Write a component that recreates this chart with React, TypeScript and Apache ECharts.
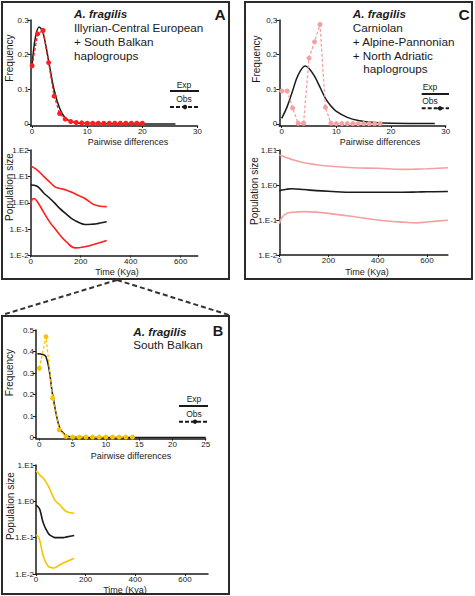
import React, { useEffect, useRef } from "react";
import * as echarts from "echarts";

const FONT = "'Liberation Sans', Arial, Helvetica, sans-serif";
const INK = "#1a1a1a";
const RED = "#ff1f1f";
const PINK = "#f4a0a0";
const YELLOW = "#f7c400";

// ---------- Panel A: mismatch distribution ----------
const aObsX = [0, 1, 2, 3, 4, 5, 6, 7, 8, 9, 10, 11, 12, 13, 14, 15, 16, 17, 18, 19, 20];
const aObsFreq = [0.168, 0.26, 0.27, 0.177, 0.08, 0.03, 0.014, 0.007, 0.004, 0.003, 0.002, 0.002, 0.002, 0.002, 0.002, 0.002, 0.002, 0.002, 0.002, 0.002, 0.002];
const aExpX = [0, 0.6, 1.3, 2, 3, 4, 5, 6, 7, 8, 10, 14, 20, 26];
const aExpFreq = [0.168, 0.25, 0.28, 0.262, 0.182, 0.098, 0.045, 0.017, 0.007, 0.003, 0.001, 0.0003, 0, 0];
// Panel A: skyline (time in Kya, population size)
const aPopX = [0, 24, 51, 77, 97, 117, 144, 164, 197, 217, 251, 264, 277, 304];
const aUpper = [25, 18, 10.2, 6.0, 4.0, 3.5, 3.0, 2.5, 1.78, 1.45, 0.87, 0.8, 0.74, 0.71];
const aMedian = [4.7, 4.3, 2.4, 1.45, 0.95, 0.6, 0.36, 0.25, 0.17, 0.15, 0.155, 0.16, 0.17, 0.19];
const aLowerX = [0, 11, 24, 51, 77, 97, 117, 144, 177, 211, 251, 304];
const aLower = [0.85, 1.45, 1.2, 0.45, 0.18, 0.105, 0.06, 0.032, 0.0195, 0.021, 0.026, 0.037];

// ---------- Panel C ----------
const cObsX = [0, 1, 2, 3, 4, 5, 6, 7, 8, 9, 10, 11, 12, 13, 14, 15, 16, 17, 18];
const cObsFreq = [0.095, 0.095, 0.046, 0.002, 0.002, 0.19, 0.237, 0.287, 0.048, 0.002, 0.001, 0.001, 0.001, 0.001, 0.001, 0.001, 0.001, 0.001, 0.001];
const cExpX = [0, 1, 2, 3, 4.3, 5, 6, 7, 8, 9, 10, 12, 14, 17, 20, 28];
const cExpFreq = [0.016, 0.05, 0.096, 0.141, 0.167, 0.16, 0.138, 0.106, 0.074, 0.052, 0.036, 0.019, 0.01, 0.004, 0.002, 0.001];
const cPopX = [0, 10, 30, 50, 100, 150, 200, 300, 400, 500, 560, 600, 685];
const cUpper = [7.2, 6.8, 6.0, 5.4, 4.3, 3.8, 3.5, 3.1, 3.0, 2.8, 2.85, 2.9, 3.1];
const cMedian = [0.68, 0.72, 0.76, 0.78, 0.74, 0.69, 0.66, 0.62, 0.62, 0.62, 0.63, 0.64, 0.65];
const cLower = [0.078, 0.117, 0.155, 0.165, 0.174, 0.168, 0.155, 0.126, 0.1, 0.087, 0.083, 0.088, 0.098];

// ---------- Panel B ----------
const bObsX = [0, 1, 2, 3, 4, 5, 6, 7, 8, 9, 10, 11, 12, 13, 14];
const bObsFreq = [0.322, 0.469, 0.183, 0.036, 0.005, 0.002, 0.002, 0.002, 0.002, 0.002, 0.002, 0.002, 0.002, 0.002, 0.002];
const bExpX = [-0.3, 1, 2, 3, 4, 5, 8, 25];
const bExpFreq = [0.39, 0.376, 0.2, 0.05, 0.01, 0.002, 0, 0];
const bPopX = [0, 9, 16, 30, 50, 63, 70, 77, 97, 110, 124, 154];
const bUpper = [6.9, 6.0, 5.2, 4.3, 2.6, 1.66, 1.3, 1.05, 0.79, 0.62, 0.52, 0.47];
const bMedian = [0.79, 0.7, 0.58, 0.245, 0.13, 0.11, 0.105, 0.1, 0.1, 0.1, 0.105, 0.115];
const bLower = [0.117, 0.107, 0.08, 0.03, 0.016, 0.015, 0.0145, 0.015, 0.018, 0.02, 0.022, 0.027];

// ---------- Tick labels ----------
const freqTicks30 = [0, 10, 20, 30];
const freqTicks25 = [0, 5, 10, 15, 20, 25];
const timeTicks = [0, 200, 400, 600];
const yTicksAC = [0, 0.1, 0.2, 0.3];
const yTicksB = [0, 0.1, 0.2, 0.3, 0.4, 0.5];

// ---------- Texts ----------
const titleA = ["Illyrian-Central European", "+ South Balkan", "haplogroups"];
const titleC = ["Carniolan", "+ Alpine-Pannonian", "+ North Adriatic", "haplogroups"];
const titleB = ["South Balkan"];

const pairs = (xs: number[], ys: number[]) => xs.map((x, i) => [x, ys[i]]);

const axisLineStyle = { color: INK, width: 1.5 };

function valueX(grid: number, min: number, max: number, ticks: number[]) {
  return {
    type: "value", gridIndex: grid, min, max,
    axisLine: { show: true, onZero: false, lineStyle: axisLineStyle },
    axisTick: { show: true, customValues: ticks, length: 2, lineStyle: { color: INK, width: 1 } },
    axisLabel: { customValues: ticks, fontSize: 8, lineHeight: 9, color: INK, margin: 1, fontFamily: FONT },
    splitLine: { show: false },
  };
}
function valueY(grid: number, min: number, max: number, ticks: number[], fmt: (v: number) => string) {
  return {
    type: "value", gridIndex: grid, min, max,
    axisLine: { show: true, onZero: false, lineStyle: axisLineStyle },
    axisTick: { show: true, customValues: ticks, length: 3, lineStyle: { color: INK, width: 1 } },
    axisLabel: { customValues: ticks, fontSize: 8, color: INK, margin: 2, fontFamily: FONT, formatter: fmt },
    splitLine: { show: false },
  };
}
function logY(grid: number, min: number, max: number) {
  return {
    type: "log", logBase: 10, gridIndex: grid, min, max,
    axisLine: { show: true, onZero: false, lineStyle: axisLineStyle },
    axisTick: { show: true, length: 3, lineStyle: { color: INK, width: 1 } },
    axisLabel: {
      fontSize: 8, color: INK, margin: 2, fontFamily: FONT,
      formatter: (v: number) => "1.E" + Math.round(Math.log10(v)),
    },
    splitLine: { show: false },
  };
}

function expSeries(idx: number, xs: number[], ys: number[]) {
  return {
    type: "line", xAxisIndex: idx, yAxisIndex: idx, data: pairs(xs, ys),
    smooth: 0.35, showSymbol: false, symbol: "none",
    lineStyle: { color: INK, width: 1.5 }, z: 3,
  };
}
function obsSeries(idx: number, xs: number[], ys: number[], color: string) {
  return {
    type: "line", xAxisIndex: idx, yAxisIndex: idx, data: pairs(xs, ys),
    symbol: "circle", symbolSize: 5,
    itemStyle: { color }, lineStyle: { color, width: 1.3, type: [3, 2] }, z: 4,
  };
}
function popSeries(idx: number, xs: number[], ys: number[], color: string) {
  return {
    type: "line", xAxisIndex: idx, yAxisIndex: idx, data: pairs(xs, ys),
    smooth: 0.4, showSymbol: false, symbol: "none",
    lineStyle: { color, width: 1.6 },
  };
}

function txt(x: number, y: number, text: string, size: number, extra: any = {}) {
  return {
    type: "text", x, y, silent: true, ...extra,
    style: {
      text, fontSize: size, fontFamily: FONT, fill: INK,
      align: extra.align || "left", verticalAlign: "middle",
      fontWeight: extra.fontWeight || "normal", fontStyle: extra.fontStyle || "normal",
    },
  };
}
function vtxt(x: number, y: number, text: string, size: number) {
  return {
    type: "text", x, y, rotation: Math.PI / 2, silent: true,
    style: { text, fontSize: size, fontFamily: FONT, fill: INK, align: "center", verticalAlign: "middle" },
  };
}
function legend(cx: number, x1: number, x2: number, yExp: number, yLine: number, yObs: number, yDash: number, dotX: number) {
  return [
    txt(cx, yExp, "Exp", 8.5, { align: "center" }),
    { type: "line", silent: true, shape: { x1, y1: yLine, x2, y2: yLine }, style: { stroke: INK, lineWidth: 2 } },
    txt(cx, yObs, "Obs", 8.5, { align: "center" }),
    { type: "line", silent: true, shape: { x1, y1: yDash, x2, y2: yDash }, style: { stroke: INK, lineWidth: 2, lineDash: [4, 2] } },
    { type: "circle", silent: true, shape: { cx: dotX, cy: yDash, r: 2.2 }, style: { fill: INK } },
  ];
}

export default function App() {
  const ref = useRef<HTMLDivElement>(null);
  useEffect(() => {
    if (!ref.current) return;
    const chart = echarts.init(ref.current, null, { renderer: "svg" });
    const fmt1 = (v: number) => (v === 0 ? "0" : String(v));
    const fmtC = (v: number) => (v === 0 ? "0" : v === 0.3 ? "0,3" : String(v));

    const graphic: any[] = [
      // panel frames
      { type: "rect", silent: true, shape: { x: 2, y: 2, width: 227, height: 277 }, style: { fill: "none", stroke: "#2b2b2b", lineWidth: 2 } },
      { type: "rect", silent: true, shape: { x: 245, y: 2, width: 227, height: 277 }, style: { fill: "none", stroke: "#2b2b2b", lineWidth: 2 } },
      { type: "rect", silent: true, shape: { x: 2, y: 316, width: 227, height: 278 }, style: { fill: "none", stroke: "#2b2b2b", lineWidth: 2 } },
      // zoom connectors
      { type: "line", silent: true, shape: { x1: 117, y1: 280, x2: 2, y2: 315 }, style: { stroke: "#333", lineWidth: 2, lineDash: [5, 3] } },
      { type: "line", silent: true, shape: { x1: 117, y1: 280, x2: 229, y2: 315 }, style: { stroke: "#333", lineWidth: 2, lineDash: [5, 3] } },
      // panel letters
      txt(220, 14, "A", 15.5, { align: "center", fontWeight: "bold" }),
      txt(464, 14, "C", 15.5, { align: "center", fontWeight: "bold" }),
      txt(218, 331, "B", 14.5, { align: "center", fontWeight: "bold" }),
      // titles
      txt(74, 13.5, "A. fragilis", 11.7, { fontWeight: "bold", fontStyle: "italic" }),
      ...titleA.map((t, i) => txt(74, 27.8 + i * 13.6, t, 11.7)),
      txt(352.7, 13.5, "A. fragilis", 11.7, { fontWeight: "bold", fontStyle: "italic" }),
      ...titleC.map((t, i) => txt(i === 3 ? 363.3 : 352.7, 27.8 + i * 13.7, t, 11.7)),
      txt(133.3, 331, "A. fragilis", 11.7, { fontWeight: "bold", fontStyle: "italic" }),
      ...titleB.map((t, i) => txt(133.3, 344.5 + i * 13.6, t, 11.7)),
      // axis names
      vtxt(9.5, 58, "Frequency", 10),
      txt(128, 141.5, "Pairwise differences", 9, { align: "center" }),
      vtxt(9, 187, "Population size", 10),
      txt(117, 272, "Time (Kya)", 9, { align: "center" }),
      vtxt(256, 59, "Frequency", 10),
      txt(380, 141.5, "Pairwise differences", 9, { align: "center" }),
      vtxt(254.5, 191, "Population size", 10),
      txt(367, 272, "Time (Kya)", 9, { align: "center" }),
      vtxt(9.5, 372.5, "Frequency", 10),
      txt(131, 456, "Pairwise differences", 9, { align: "center" }),
      vtxt(10.5, 506, "Population size", 10),
      txt(125, 589.5, "Time (Kya)", 9, { align: "center" }),
      // legends
      ...legend(184, 170, 199, 85, 91, 99, 107, 185),
      ...legend(430, 421.7, 449, 87, 94, 100.7, 108.3, 440),
      ...legend(194, 179, 208, 399, 406, 414, 421.7, 195),
    ];

    chart.setOption({
      animation: false,
      backgroundColor: "#ffffff",
      textStyle: { fontFamily: FONT },
      grid: [
        { left: 30.7, top: 20, width: 166.8, height: 106 },
        { left: 30.7, top: 150, width: 167, height: 105.5 },
        { left: 279.3, top: 20, width: 166.4, height: 106 },
        { left: 279.3, top: 150, width: 168.6, height: 105 },
        { left: 36, top: 330, width: 169.7, height: 108.6 },
        { left: 36, top: 465, width: 172, height: 109 },
      ],
      xAxis: [
        valueX(0, -0.25, 30, freqTicks30),
        valueX(1, 0, 668, timeTicks),
        valueX(2, -0.44, 30, freqTicks30),
        valueX(3, 0, 685, timeTicks),
        valueX(4, -0.5, 25, freqTicks25),
        valueX(5, 0, 693, timeTicks),
      ],
      yAxis: [
        valueY(0, -0.006, 0.3, yTicksAC, fmt1),
        logY(1, 0.01, 100),
        valueY(2, -0.006, 0.3, yTicksAC, fmtC),
        logY(3, 0.01, 10),
        valueY(4, -0.005, 0.5, yTicksB, fmt1),
        logY(5, 0.01, 10),
      ],
      series: [
        expSeries(0, aExpX, aExpFreq),
        obsSeries(0, aObsX, aObsFreq, RED),
        popSeries(1, aPopX, aUpper, RED),
        popSeries(1, aPopX, aMedian, INK),
        popSeries(1, aLowerX, aLower, RED),
        expSeries(2, cExpX, cExpFreq),
        obsSeries(2, cObsX, cObsFreq, PINK),
        popSeries(3, cPopX, cUpper, PINK),
        popSeries(3, cPopX, cMedian, INK),
        popSeries(3, cPopX, cLower, PINK),
        expSeries(4, bExpX, bExpFreq),
        obsSeries(4, bObsX, bObsFreq, YELLOW),
        popSeries(5, bPopX, bUpper, YELLOW),
        popSeries(5, bPopX, bMedian, INK),
        popSeries(5, bPopX, bLower, YELLOW),
      ],
      graphic,
    });
    return () => chart.dispose();
  }, []);
  return (
    <div
      ref={ref}
      style={{ position: "absolute", left: 0, top: 0, width: 475, height: 596, background: "#fff" }}
    />
  );
}
